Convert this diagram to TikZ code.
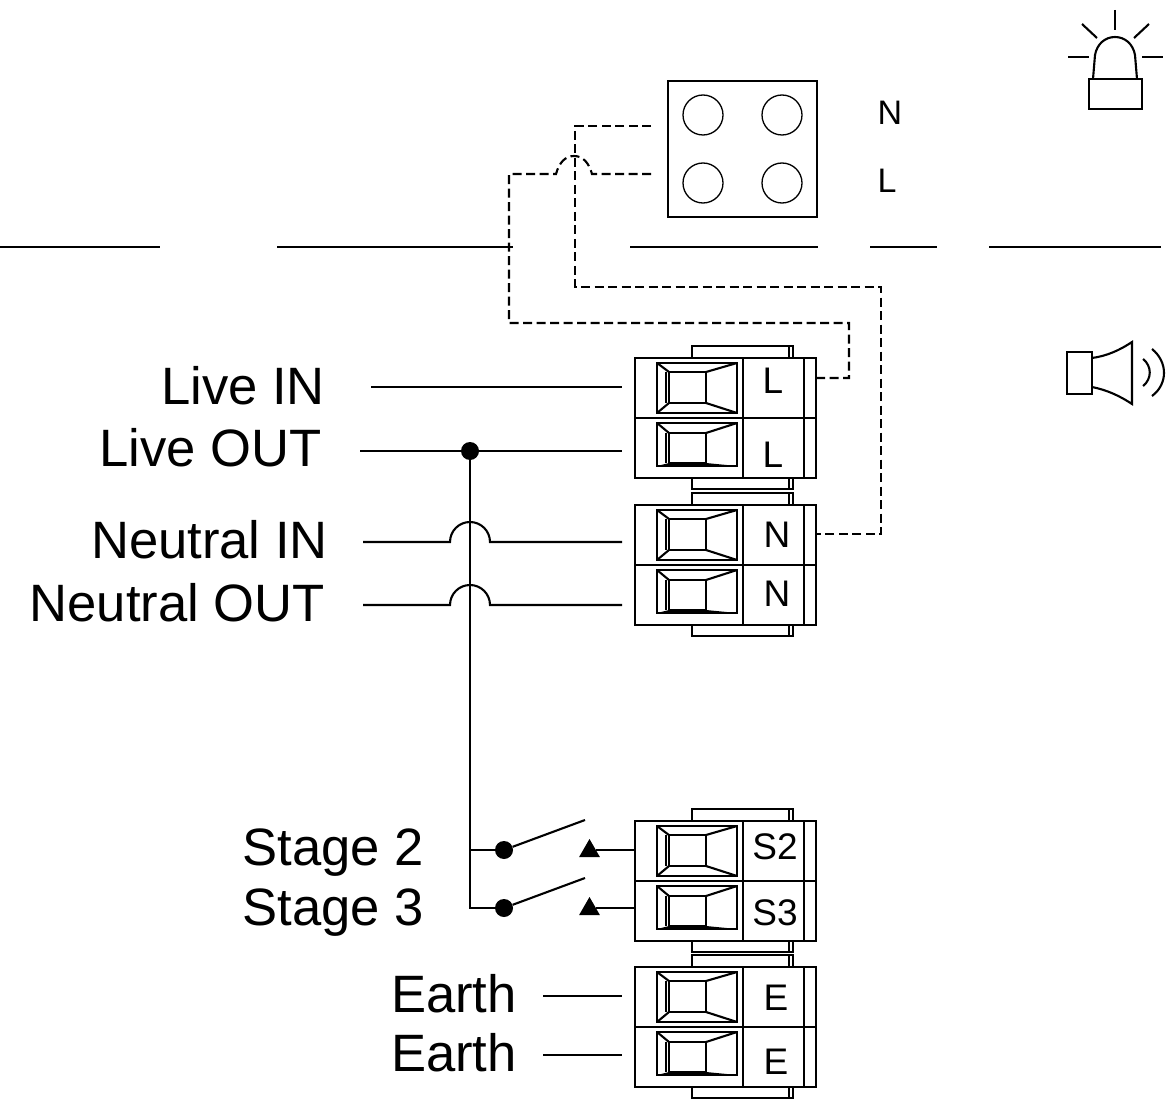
\documentclass[tikz,border=0pt]{standalone}
\usepackage{fontspec}
\setmainfont{Liberation Sans}
\newcommand{\bigtext}{\fontsize{52.6}{60}\selectfont}
\newcommand{\midtext}{\fontsize{37}{44}\selectfont}
\newcommand{\termblock}[1]{%
  \begin{scope}[shift={(0,#1)}]
    \draw[wire] (692,0) -- (692,-12) -- (793,-12) -- (793,0);
    \draw[wire] (789,0) -- (789,-12);
    \draw[wire] (692,120) -- (692,131) -- (793,131) -- (793,120);
    \draw[wire] (789,120) -- (789,131);
    \draw[wire,fill=white] (635,0) rectangle (816,120);
    \draw[wire] (635,60) -- (816,60);
    \draw[wire] (743,0) -- (743,120);
    \draw[wire] (804,0) -- (804,120);
    % upper window
    \draw[wire] (657,5) rectangle (737,55);
    \draw[wire] (669,14) rectangle (706,45);
    \draw[wire] (666,14) -- (666,45);
    \draw[wire] (657,5) -- (669,14);
    \draw[wire] (657,55) -- (669,45);
    \draw[wire] (737,5) -- (706,14);
    \draw[wire] (737,55) -- (706,45);
    % lower window
    \draw[wire] (657,65) rectangle (737,108);
    \draw[wire] (669,75) rectangle (706,105);
    \draw[wire] (666,75) -- (666,105);
    \draw[wire] (657,65) -- (669,75);
    \fill[black] (657,108) -- (669,105) -- (706,105) -- (737,108) -- cycle;
    \draw[wire] (737,65) -- (706,75);
  \end{scope}}
\tikzset{
  wire/.style={line width=2.1pt,black},
  thinwire/.style={line width=1.3pt,black},
  dashwire/.style={line width=2.1pt,black,dash pattern=on 9pt off 4.5pt},
  biglabel/.style={inner sep=0pt,anchor=base east,font=\bigtext},
  midlabel/.style={inner sep=0pt,anchor=base,font=\midtext},
  dot/.style={circle,fill=black,inner sep=0pt,minimum size=18pt},
  contact/.style={isosceles triangle,isosceles triangle apex angle=60,shape border rotate=90,fill=black,inner sep=0pt,minimum height=18pt,minimum width=18pt},
  hole/.style={circle,draw=black,line width=1.3pt,inner sep=0pt,minimum size=40pt}
}
\usetikzlibrary{shapes.geometric}
\begin{document}
\begin{tikzpicture}[x=1pt,y=-1pt]
  \useasboundingbox (0,0) rectangle (1176,1102);

  % cable run across the top
  \coordinate (runa) at (0,247);   \coordinate (runb) at (160,247);
  \coordinate (runc) at (277,247); \coordinate (rund) at (513,247);
  \coordinate (rune) at (630,247); \coordinate (runf) at (818,247);
  \coordinate (rung) at (870,247); \coordinate (runh) at (937,247);
  \coordinate (runi) at (989,247); \coordinate (runj) at (1161,247);
  \draw[wire] (runa) -- (runb);
  \draw[wire] (runc) -- (rund);
  \draw[wire] (rune) -- (runf);
  \draw[wire] (rung) -- (runh);
  \draw[wire] (runi) -- (runj);

  % socket
  \draw[thinwire] (668,81) rectangle (817,217);
  \node[hole] (holea) at (703,115) {};
  \node[hole] (holeb) at (782,115) {};
  \node[hole] (holec) at (703,183) {};
  \node[hole] (holed) at (782,183) {};
  \node[inner sep=0pt,anchor=base,font=\fontsize{34}{40}\selectfont] (socketN) at (890,125) {N};
  \node[inner sep=0pt,anchor=base,font=\fontsize{34}{40}\selectfont] (socketL) at (887,193) {L};

  % beacon
  \draw[wire,fill=white] (1089,79) rectangle (1142,109);
  \draw[wire] (1093,79) -- (1095,55) .. controls (1097,44) and (1105,37) .. (1115,37)
    .. controls (1125,37) and (1133,44) .. (1135,55) -- (1137,79);
  \draw[wire] (1115,10) -- (1115,30);
  \draw[wire] (1082,24) -- (1097,38);
  \draw[wire] (1149,24) -- (1134,38);
  \draw[wire] (1068,57) -- (1089,57);
  \draw[wire] (1142,57) -- (1163,57);

  % sounder
  \draw[wire] (1067,352) rectangle (1092,394);
  \draw[wire] (1092,358) .. controls (1107,356) and (1120,350) .. (1132,342) -- (1132,404)
    .. controls (1120,396) and (1107,390) .. (1092,387);
  \draw[wire] (1143,359) .. controls (1152,366) and (1152,379) .. (1143,386);
  \draw[wire] (1152,349) .. controls (1168,362) and (1168,384) .. (1152,396);

  % terminals
  \termblock{358}
  \termblock{505}
  \termblock{821}
  \termblock{967}

  \node[midlabel] (termLa) at (773,393) {L};
  \node[midlabel] (termLb) at (773,467) {L};
  \node[midlabel] (termNa) at (777,547) {N};
  \node[midlabel] (termNb) at (777,606) {N};
  \node[midlabel] (termSa) at (775,859) {S2};
  \node[midlabel] (termSb) at (775,925) {S3};
  \node[midlabel] (termEa) at (776,1010) {E};
  \node[midlabel] (termEb) at (776,1074) {E};

  % dashed links
  \coordinate (socketa) at (651,126);
  \coordinate (socketb) at (651,174);
  \coordinate (blockL) at (816,378);
  \coordinate (blockN) at (816,534);
  \draw[dashwire] (socketa) -- (575,126) -- (575,287) -- (881,287) -- (881,534) -- (blockN);
  \draw[dashwire] (socketb) -- (592,174) .. controls (589,163) and (583,156) .. (574,156)
    .. controls (565,156) and (559,163) .. (556,174) -- (509,174) -- (509,323) -- (849,323) -- (849,378) -- (blockL);

  % left hand labels
  \node[biglabel] (liveinlabel) at (325,404) {Live IN};
  \node[biglabel] (liveoutlabel) at (322,466) {Live OUT};
  \node[biglabel] (neutralinlabel) at (328,558) {Neutral IN};
  \node[biglabel] (neutraloutlabel) at (325,621) {Neutral OUT};
  \node[biglabel] (stageblabel) at (424,865) {Stage 2};
  \node[biglabel] (stageclabel) at (424,925) {Stage 3};
  \node[biglabel] (earthalabel) at (517,1012) {Earth};
  \node[biglabel] (earthblabel) at (517,1071) {Earth};

  % wires in
  \coordinate (livein) at (371,387);    \coordinate (liveinend) at (622,387);
  \coordinate (liveout) at (360,451);   \coordinate (liveoutend) at (622,451);
  \coordinate (neutralin) at (363,542); \coordinate (neutralinend) at (622,542);
  \coordinate (neutralout) at (363,605);\coordinate (neutraloutend) at (622,605);
  \coordinate (eartha) at (543,996);    \coordinate (earthaend) at (622,996);
  \coordinate (earthb) at (543,1055);   \coordinate (earthbend) at (622,1055);
  \draw[wire] (livein) -- (liveinend);
  \draw[wire] (liveout) -- (liveoutend);
  \draw[wire] (neutralin) -- (450,542) arc (180:360:20 and 20) -- (neutralinend);
  \draw[wire] (neutralout) -- (450,605) arc (180:360:20 and 20) -- (neutraloutend);
  \draw[wire] (eartha) -- (earthaend);
  \draw[wire] (earthb) -- (earthbend);

  % stage switches
  \node[dot] (livedot) at (470,451) {};
  \node[dot] (stagebdot) at (504,850) {};
  \node[dot] (stagecdot) at (504,908) {};
  \node[contact] (stagebpin) at (589.5,851) {};
  \node[contact] (stagecpin) at (589.5,909) {};
  \coordinate (stagebarm) at (585,820);
  \coordinate (stagecarm) at (585,878);
  \coordinate (stagebin) at (635,850);
  \coordinate (stagecin) at (635,908);
  \draw[wire] (livedot) -- (470,908) -- (stagecdot);
  \draw[wire] (470,850) -- (stagebdot);
  \draw[wire] (stagebdot) -- (stagebarm);
  \draw[wire] (stagecdot) -- (stagecarm);
  \draw[wire] (stagebin) -- (596,850);
  \draw[wire] (stagecin) -- (596,908);
\end{tikzpicture}
\end{document}
